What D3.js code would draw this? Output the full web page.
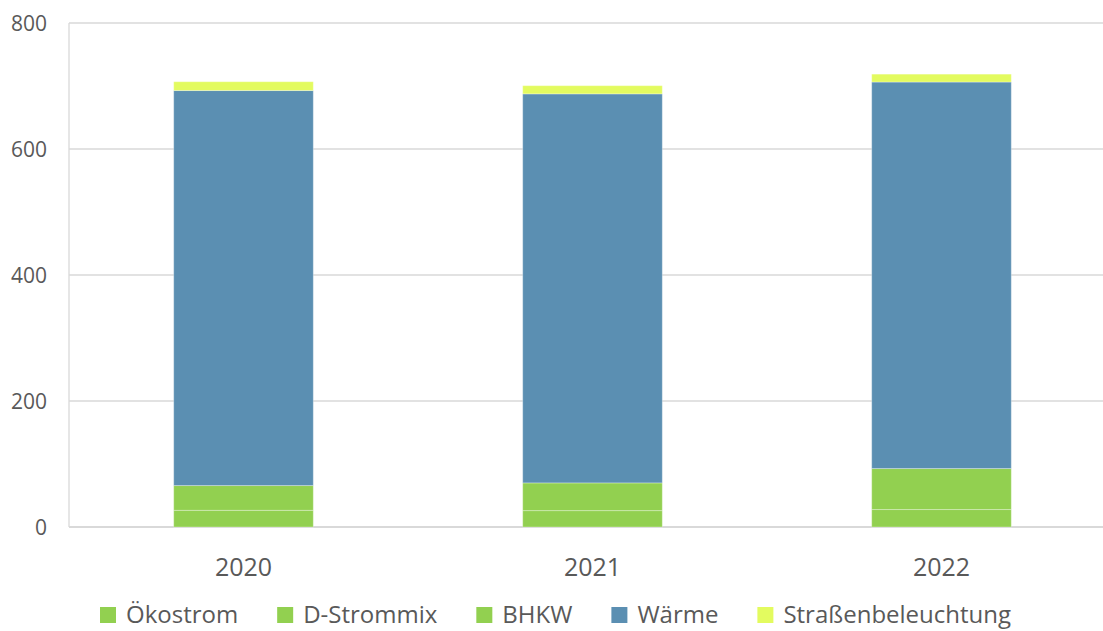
<!DOCTYPE html>
<html>
<head>
<meta charset="utf-8">
<script src="https://cdn.jsdelivr.net/npm/d3@7"></script>
<style>
  body { margin: 0; background: #fff; }
  svg text { font-family: "Open Sans", sans-serif; fill: #595959; }
</style>
</head>
<body>
<svg id="chart" width="1103" height="631"></svg>
<script>
// values
const years = ["2020", "2021", "2022"];
const seriesNames = ["Ökostrom", "D-Strommix", "BHKW", "Wärme", "Straßenbeleuchtung"];
const oekostrom = [0, 0, 0];
const dStrommix = [26.5, 26, 27.7];
const bhkw = [39.3, 44, 65.1];
const waerme = [627, 617.5, 613.5];
const strasse = [14, 13, 12.5];
const yTicks = [0, 200, 400, 600, 800];
const colors = ["#92D050", "#92D050", "#92D050", "#5B8FB2", "#E3FB5F"];

const svg = d3.select("#chart");
const margin = { top: 23, left: 69, bottom: 527, right: 1103 };

const rows = years.map((y, i) => ({
    year: y,
    "Ökostrom": oekostrom[i],
    "D-Strommix": dStrommix[i],
    "BHKW": bhkw[i],
    "Wärme": waerme[i],
    "Straßenbeleuchtung": strasse[i]
}));

const stacked = d3.stack().keys(seriesNames)(rows);

const x = d3.scaleBand()
    .domain(years)
    .range([margin.left, margin.left + 3 * 349]);

const barWidth = x.bandwidth() * 0.4;

const y = d3.scaleLinear()
    .domain([0, 800])
    .range([margin.bottom, margin.top]);

// gridlines
svg.append("g")
    .selectAll("line")
    .data(yTicks)
    .enter().append("line")
    .attr("x1", margin.left)
    .attr("x2", margin.right)
    .attr("y1", d => y(d))
    .attr("y2", d => y(d))
    .style("stroke", "#D9D9D9")
    .style("stroke-width", d => d == 0 ? 2 : 1.3);

svg.append("line")
    .attr("x1", margin.left).attr("x2", margin.left)
    .attr("y1", y(800)).attr("y2", y(0))
    .style("stroke", "#D9D9D9")
    .style("stroke-width", 1.3);

// y tick labels
svg.append("g")
    .selectAll("text")
    .data(yTicks)
    .enter().append("text")
    .attr("x", 47)
    .attr("y", d => y(d))
    .attr("dy", "0.36em")
    .attr("text-anchor", "end")
    .style("font-size", "21px")
    .text(d => d);

// bars
svg.append("g")
    .selectAll("g")
    .data(stacked)
    .enter().append("g")
    .style("fill", (d, i) => colors[i])
    .selectAll("rect")
    .data(d => d)
    .enter().append("rect")
    .attr("x", d => x(d.data.year) + x.bandwidth() / 2 - barWidth / 2)
    .attr("width", barWidth)
    .attr("y", d => y(d[1]))
    .attr("height", d => y(d[0]) - y(d[1]))
    .style("stroke", "rgba(255,255,255,0.3)")
    .style("stroke-width", 1);

// x labels
svg.append("g")
    .selectAll("text")
    .data(years)
    .enter().append("text")
    .attr("x", d => x(d) + x.bandwidth() / 2)
    .attr("y", 576)
    .attr("text-anchor", "middle")
    .style("font-size", "25px")
    .text(d => d);

// legend
const legend = svg.append("g");
let lx = 100;
seriesNames.forEach((name, i) => {
    legend.append("rect")
        .attr("x", lx)
        .attr("y", 607)
        .attr("width", 16)
        .attr("height", 16)
        .style("fill", colors[i]);
    const t = legend.append("text")
        .attr("x", lx + 26)
        .attr("y", 623)
        .style("font-size", "24px")
        .text(name);
    lx += 26 + t.node().getComputedTextLength() + 39;
});
</script>
</body>
</html>
